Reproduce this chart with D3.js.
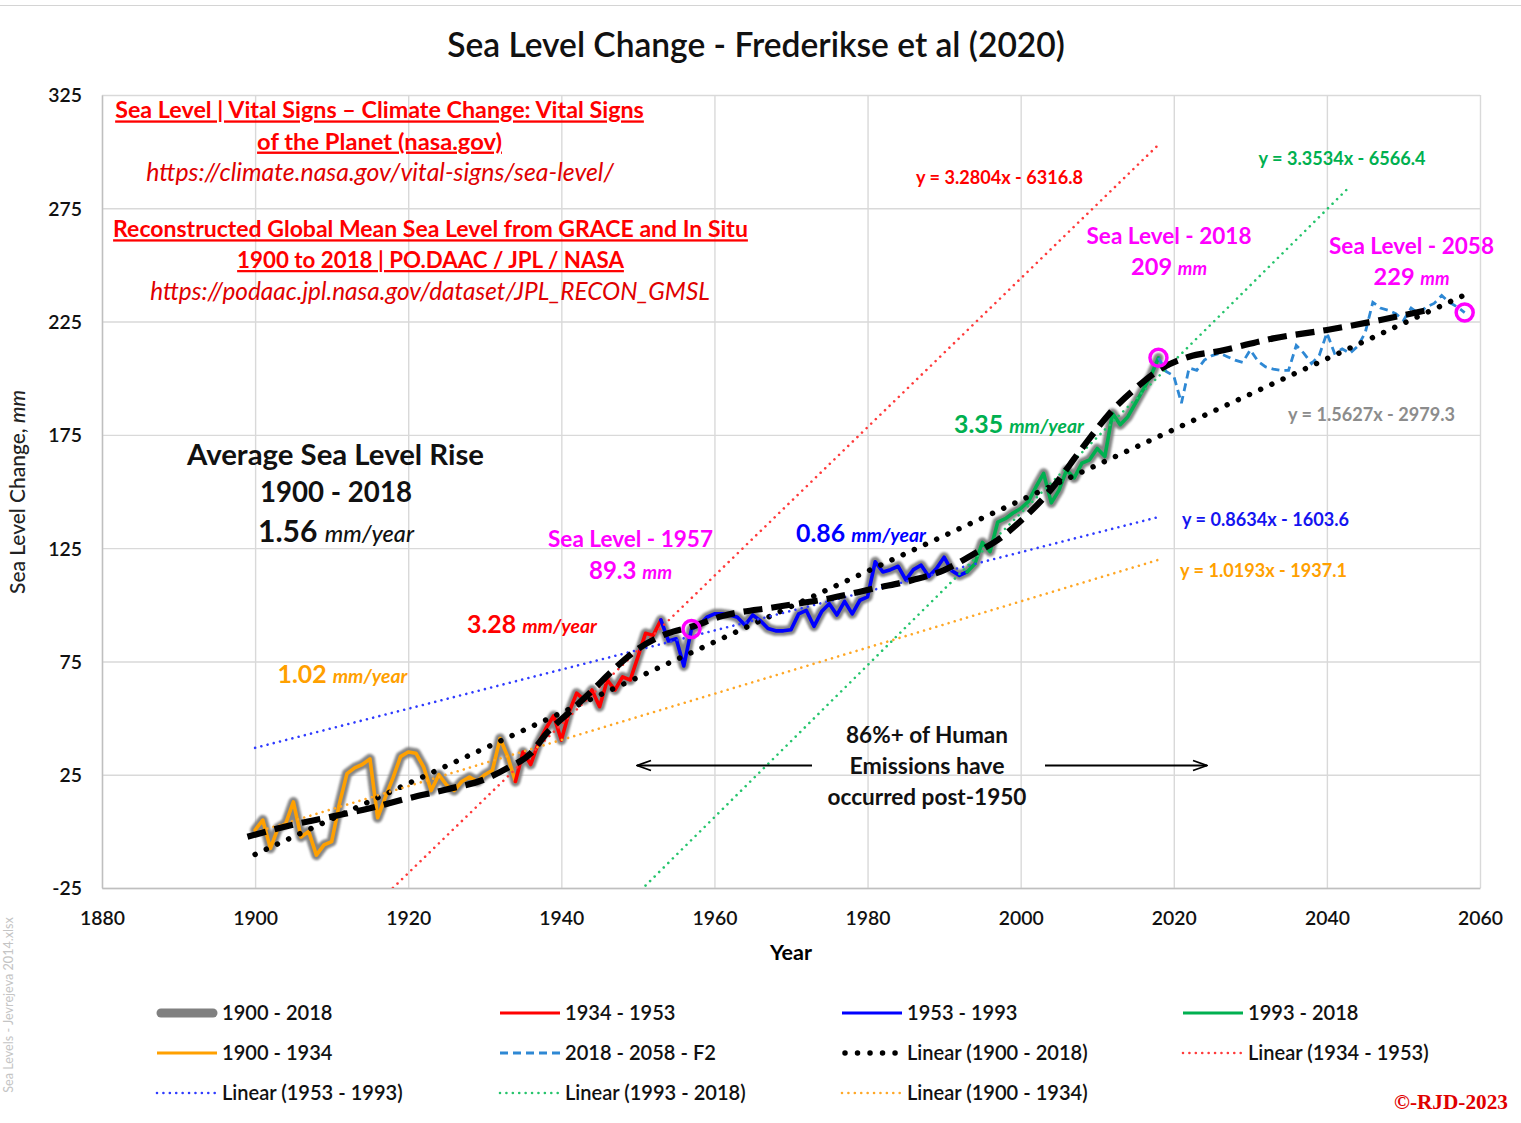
<!DOCTYPE html>
<html>
<head>
<meta charset="utf-8">
<title>Sea Level Change - Frederikse et al (2020)</title>
<script src="https://cdn.jsdelivr.net/npm/d3@7/dist/d3.min.js"></script>
<style>
  html, body { margin: 0; padding: 0; background: #ffffff; }
  svg { display: block; font-family: Lato, "Open Sans", "DejaVu Sans", sans-serif; }
</style>
</head>
<body>
<svg id="chart" width="1521" height="1123"></svg>
<script>
// ---------------------------------------------------------------------------
// Data
// ---------------------------------------------------------------------------
// Global mean sea level change (mm), one value per year from 1900 to 2018
const firstYear = 1900;
const seaLevel = [
  0.6, 5, -7.5, 1.5, 3.5, 13, -2.5, 0, -10.5, -6,              // 1900-1909
  -4.5, 12, 25.5, 28, 29.5, 32, 6, 15, 23.5, 33,               // 1910-1919
  35, 34.5, 28.5, 18, 25, 20.5, 18, 22, 24, 22,                // 1920-1929
  25, 27, 41, 33, 22, 35, 29.5, 39, 45.5, 51,                  // 1930-1939
  40.3, 52.5, 61, 58, 62.4, 55, 66.8, 62.4, 68.2, 66.8,        // 1940-1949
  77, 87.4, 86.5, 93.3, 84, 85, 73, 89.3, 91, 94.5,            // 1950-1959
  96, 96, 95.5, 94.5, 91, 95.5, 93, 89.5, 88.5, 88.5,          // 1960-1969
  89, 96, 97.5, 90.5, 97, 100.5, 95.5, 101.5, 96, 102,         // 1970-1979
  103.5, 119, 114.5, 115.5, 117, 111, 115.5, 117.5, 112.5, 116,// 1980-1989
  121, 115, 113, 114.5, 118, 127.5, 123.5, 136.5, 138, 140.5,  // 1990-1999
  142.5, 145.5, 152, 158, 145, 150.5, 159.5, 156, 162.5, 164,  // 2000-2009
  169, 165.5, 184.5, 179.5, 183, 189, 195, 201, 209            // 2010-2018
];

// Coloured sub-periods of the record
const segmentNames = ["1900 - 1934", "1934 - 1953", "1953 - 1993", "1993 - 2018"];
const segmentStart = [1900, 1934, 1953, 1993];
const segmentEnd   = [1934, 1953, 1993, 2018];

// Projection "F2", 2018 to 2058 (mm)
const forecastStart = 2018;
const forecastF2 = [
  209, 203, 201, 189, 204.5, 203.5, 208, 210, 211, 209.5,      // 2018-2027
  208, 207, 212.5, 207.5, 205, 204, 203.5, 203.5, 214.5, 211,  // 2028-2037
  206.5, 210, 220, 211, 213, 211, 214, 220, 233.5, 231,        // 2038-2047
  230, 228.5, 225.5, 231, 228.5, 231.5, 233, 236.5, 233.5, 231.5, // 2048-2057
  229                                                          // 2058
];

// Smoothed trend curve (thick dashed black)
const smoothYears  = [1899, 1905, 1910, 1915, 1920, 1925, 1930, 1933, 1936, 1938, 1941, 1944, 1947, 1950,
                      1954, 1957, 1961, 1968, 1975, 1981, 1986, 1990, 1994, 1997, 2000, 2004, 2008, 2012,
                      2015, 2018, 2022, 2026, 2033, 2040, 2047, 2053];
const smoothValues = [-2.4, 3, 6.5, 10.2, 14.6, 18.5, 23, 28, 34.4, 43, 52.5, 62, 72, 80.5,
                      87.5, 90.3, 95, 99, 102.8, 107.3, 111, 115.3, 122.7, 128.6, 137, 151, 169, 185.9,
                      195.5, 203.5, 209.5, 212, 217.6, 221.3, 225.7, 230];

// Linear trend lines (y = slope * year + intercept) and the years they span
const trendNames     = ["Linear (1900 - 2018)", "Linear (1934 - 1953)", "Linear (1953 - 1993)",
                        "Linear (1993 - 2018)", "Linear (1900 - 1934)"];
const trendSlope     = [1.5627, 3.2804, 0.8634, 3.3534, 1.0193];
const trendIntercept = [-2979.3, -6316.8, -1603.6, -6566.4, -1937.1];
const trendFrom      = [1900, 1918, 1900, 1951, 1900];
const trendTo        = [2059, 2018, 2018, 2043, 2018];

// Highlighted sea levels
const markerYears  = [1957, 2018, 2058];
const markerValues = [89.3, 209, 229];

// Axis ticks
const xTickValues = [1880, 1900, 1920, 1940, 1960, 1980, 2000, 2020, 2040, 2060];
const yTickValues = [-25, 25, 75, 125, 175, 225, 275, 325];

// Legend entries
const legendNames = ["1900 - 2018", "1934 - 1953", "1953 - 1993", "1993 - 2018",
                     "1900 - 1934", "2018 - 2058 - F2", "Linear (1900 - 2018)", "Linear (1934 - 1953)",
                     "Linear (1953 - 1993)", "Linear (1993 - 2018)", "Linear (1900 - 1934)"];

// ---------------------------------------------------------------------------
// Styles
// ---------------------------------------------------------------------------
const C = {
  orange: "#FFA000", red: "#FF0000", blue: "#0000FF", green: "#00B050",
  f2: "#2E88D4", magenta: "#FF00FF", gray: "#808080",
  redDot: "#FF3A3A", blueDot: "#2F3BFF", greenDot: "#25C46C", orangeDot: "#FFA726"
};
const segmentColor = [C.orange, C.red, C.blue, C.green];
const trendColor = ["#000000", C.redDot, C.blueDot, C.greenDot, C.orangeDot];

// ---------------------------------------------------------------------------
// Scales & frame
// ---------------------------------------------------------------------------
const svg = d3.select("#chart");
const x = d3.scaleLinear().domain([1880, 2060]).range([102, 1480]);
const y = d3.scaleLinear().domain([-25, 325]).range([888, 95]);
const [x0, x1] = x.range();
const [yB, yT] = y.range();

const defs = svg.append("defs");
defs.append("clipPath").attr("id", "plotClip").append("rect")
  .attr("x", x0).attr("y", yT).attr("width", x1 - x0).attr("height", yB - yT);
defs.append("filter").attr("id", "halo")
  .attr("x", "-5%").attr("y", "-5%").attr("width", "110%").attr("height", "110%")
  .append("feGaussianBlur").attr("stdDeviation", 1.1);
defs.append("marker").attr("id", "arrowHead")
  .attr("viewBox", "0 -7 16 14").attr("refX", 15).attr("refY", 0)
  .attr("markerWidth", 16).attr("markerHeight", 14)
  .attr("markerUnits", "userSpaceOnUse").attr("orient", "auto")
  .append("path").attr("d", "M1,-5 L15,0 L1,5")
  .attr("fill", "none").attr("stroke", "#000").attr("stroke-width", 1.8);

// thin frame line across the top of the chart area
svg.append("line").attr("x1", 0).attr("x2", 1521).attr("y1", 5.5).attr("y2", 5.5)
  .attr("stroke", "#d4d4d4").attr("stroke-width", 1.2);

// gridlines
svg.append("g").attr("transform", `translate(${x0},0)`)
  .call(d3.axisLeft(y).tickValues(yTickValues).tickSize(-(x1 - x0)).tickFormat(""))
  .call(g => g.select(".domain").remove())
  .call(g => g.selectAll("line").attr("stroke", "#d9d9d9").attr("stroke-width", 1.4));
svg.append("g").attr("transform", `translate(0,${yB})`)
  .call(d3.axisBottom(x).tickValues(xTickValues).tickSize(-(yB - yT)).tickFormat(""))
  .call(g => g.select(".domain").remove())
  .call(g => g.selectAll("line").attr("stroke", "#d9d9d9").attr("stroke-width", 1.4));

// text measuring helper: width per 1px of font size
function unitWidth(parts, weight, family) {
  const t = svg.append("text").attr("font-size", 100).attr("font-weight", weight);
  if (family) t.attr("font-family", family);
  parts.forEach(p => {
    const s = t.append("tspan").text(p.text);
    if (p.italic) s.attr("font-style", "italic");
    if (p.size) s.style("font-size", p.size + "em");
    if (p.weight) s.attr("font-weight", p.weight);
  });
  const w = t.node().getComputedTextLength() / 100;
  t.remove();
  return w;
}

// rich text label centred at (cx, cy), sized so that it spans `width` pixels
function label(parts, o) {
  const weight = o.weight ?? 700;
  const fs = o.size ?? (o.width / unitWidth(parts, weight, o.family));
  const t = svg.append("text")
    .attr("text-anchor", o.anchor || "middle")
    .attr("font-size", fs)
    .attr("font-weight", weight)
    .attr("fill", o.fill || "#000");
  if (o.family) t.attr("font-family", o.family);
  if (o.underline) t.style("text-decoration", "underline");
  parts.forEach(p => {
    const s = t.append("tspan").text(p.text);
    if (p.italic) s.attr("font-style", "italic");
    if (p.size) s.style("font-size", p.size + "em");
    if (p.weight) s.attr("font-weight", p.weight);
  });
  t.attr("x", o.x).attr("y", o.y + 0.36 * fs);
  if (o.rotate) t.attr("transform", `rotate(${o.rotate},${o.x},${o.y})`);
  return t;
}

// axes with tick labels (plain hyphen for negatives)
const plain = d => String(d);
const tickFs = 45 / unitWidth([{ text: "1880" }], 600);
const xAxis = svg.append("g").attr("transform", `translate(0,${yB})`)
  .call(d3.axisBottom(x).tickValues(xTickValues).tickSize(0).tickFormat(plain));
xAxis.attr("font-family", null).attr("font-size", tickFs).attr("font-weight", 600);
xAxis.select(".domain").attr("stroke", "#bfbfbf").attr("stroke-width", 1.4);
xAxis.selectAll("text").attr("fill", "#111").attr("dy", null).attr("y", 30 + 0.36 * tickFs);

const yAxis = svg.append("g").attr("transform", `translate(${x0},0)`)
  .call(d3.axisLeft(y).tickValues(yTickValues).tickSize(0).tickFormat(plain));
yAxis.attr("font-family", null).attr("font-size", tickFs).attr("font-weight", 600);
yAxis.select(".domain").attr("stroke", "#bfbfbf").attr("stroke-width", 1.4);
yAxis.selectAll("text").attr("fill", "#111").attr("dy", null).attr("x", -20)
  .attr("y", 0.36 * tickFs);

// axis titles
label([{ text: "Year" }], { x: 791, y: 952, width: 42, weight: 700 });
label([{ text: "Sea Level Change, " }, { text: "mm", italic: true }],
  { x: 17, y: 492, width: 204, weight: 500, fill: "#222", rotate: -90 });

// ---------------------------------------------------------------------------
// Series
// ---------------------------------------------------------------------------
const obs = seaLevel.map((v, i) => ({ year: firstYear + i, value: v }));
const f2 = forecastF2.map((v, i) => ({ year: forecastStart + i, value: v }));
const smooth = smoothYears.map((yr, i) => ({ year: yr, value: smoothValues[i] }));
const line = d3.line().x(d => x(d.year)).y(d => y(d.value));
const plot = svg.append("g").attr("clip-path", "url(#plotClip)");

// full record as a soft grey band under the coloured periods
plot.append("path").datum(obs).attr("d", line)
  .attr("fill", "none").attr("stroke", C.gray).attr("stroke-width", 10)
  .attr("stroke-linejoin", "round").attr("stroke-linecap", "round")
  .attr("opacity", 0.95).attr("filter", "url(#halo)");

segmentNames.forEach((name, k) => {
  const seg = obs.filter(d => d.year >= segmentStart[k] && d.year <= segmentEnd[k]);
  plot.append("path").datum(seg).attr("d", line)
    .attr("fill", "none").attr("stroke", segmentColor[k]).attr("stroke-width", 3.6)
    .attr("stroke-linejoin", "round").attr("stroke-linecap", "round");
});

// projection
plot.append("path").datum(f2).attr("d", line)
  .attr("fill", "none").attr("stroke", C.f2).attr("stroke-width", 2.8)
  .attr("stroke-dasharray", "8,5");

// linear trends
trendNames.forEach((name, k) => {
  const pts = [trendFrom[k], trendTo[k]].map(yr => ({ year: yr, value: trendSlope[k] * yr + trendIntercept[k] }));
  const p = plot.append("path").datum(pts).attr("d", line).attr("fill", "none")
    .attr("stroke", trendColor[k]).attr("stroke-linecap", "round");
  if (k === 0) p.attr("stroke-width", 5.5).attr("stroke-dasharray", "0.01,12.3");
  else p.attr("stroke-width", 2.6).attr("stroke-dasharray", "0.01,6.4");
});

// smoothed trend
plot.append("path").datum(smooth).attr("d", line.curve(d3.curveMonotoneX))
  .attr("fill", "none").attr("stroke", "#000").attr("stroke-width", 6.2)
  .attr("stroke-dasharray", "19,9");
line.curve(d3.curveLinear);

// highlighted levels
svg.selectAll("circle.mark").data(markerYears).join("circle")
  .attr("class", "mark")
  .attr("cx", d => x(d)).attr("cy", (d, i) => y(markerValues[i])).attr("r", 8.5)
  .attr("fill", "none").attr("stroke", C.magenta).attr("stroke-width", 3.5);

// ---------------------------------------------------------------------------
// Annotations
// ---------------------------------------------------------------------------
label([{ text: "Sea Level Change - Frederikse et al (2020)" }],
  { x: 756, y: 45, width: 618, weight: 600, fill: "#111" });

label([{ text: "Sea Level | Vital Signs \u2013 Climate Change: Vital Signs" }],
  { x: 379.5, y: 110, width: 529, fill: C.red, underline: true });
label([{ text: "of the Planet (nasa.gov)" }],
  { x: 379.5, y: 141, width: 245, fill: C.red, underline: true });
label([{ text: "https://climate.nasa.gov/vital-signs/sea-level/", italic: true }],
  { x: 380, y: 172, width: 468, weight: 400, fill: "#E00000" });
label([{ text: "Reconstructed Global Mean Sea Level from GRACE and In Situ" }],
  { x: 430.5, y: 229, width: 635, fill: C.red, underline: true });
label([{ text: "1900 to 2018 | PO.DAAC / JPL / NASA" }],
  { x: 430.5, y: 260, width: 387, fill: C.red, underline: true });
label([{ text: "https://podaac.jpl.nasa.gov/dataset/JPL_RECON_GMSL", italic: true }],
  { x: 430, y: 291, width: 560, weight: 400, fill: "#E00000" });

const rate = d3.format(".2f");
label([{ text: "Average Sea Level Rise" }], { x: 335.5, y: 454, width: 297, fill: "#111" });
label([{ text: "1900 - 2018" }], { x: 336, y: 492, width: 152, fill: "#111" });
label([{ text: rate(trendSlope[0]) + " " }, { text: "mm/year", italic: true, size: 0.78, weight: 500 }],
  { x: 336, y: 531, width: 156, fill: "#111" });

// slope labels for each period
const rateLabels = [
  { k: 2, x: 861, y: 533, fill: C.blue },
  { k: 1, x: 532, y: 624, fill: C.red },
  { k: 4, x: 342.5, y: 674, fill: C.orange },
  { k: 3, x: 1019, y: 424, fill: C.green }
];
rateLabels.forEach(r => {
  label([{ text: rate(trendSlope[r.k]) + " " }, { text: "mm/year", italic: true, size: 0.78 }],
    { x: r.x, y: r.y, width: 130, fill: r.fill });
});

// highlighted level captions
const markerCaption = [
  { x: 630.5, y: 539 }, { x: 1169, y: 236 }, { x: 1411.5, y: 246 }
];
const valueWidth = [83, 76, 76];
markerYears.forEach((yr, i) => {
  label([{ text: "Sea Level - " + yr }],
    { x: markerCaption[i].x, y: markerCaption[i].y, width: 165, fill: C.magenta });
  label([{ text: markerValues[i] + " " }, { text: "mm", italic: true, size: 0.78 }],
    { x: markerCaption[i].x, y: markerCaption[i].y + 31, width: valueWidth[i], fill: C.magenta });
});

// trend equations
const eqPos = [
  { x: 1371.5, y: 414, fill: "#8C8C8C" },
  { x: 999.5, y: 177, fill: C.red },
  { x: 1265.5, y: 519, fill: "#1414F0" },
  { x: 1342, y: 158, fill: C.green },
  { x: 1263.5, y: 570, fill: "#FFA000" }
];
trendNames.forEach((name, k) => {
  const txt = `y = ${trendSlope[k]}x - ${-trendIntercept[k]}`;
  label([{ text: txt }], { x: eqPos[k].x, y: eqPos[k].y, width: 167, fill: eqPos[k].fill });
});

// emissions note with arrows
label([{ text: "86%+ of Human" }], { x: 927, y: 735, width: 162, fill: "#111" });
label([{ text: "Emissions have" }], { x: 927, y: 766, width: 155, fill: "#111" });
label([{ text: "occurred post-1950" }], { x: 927, y: 797, width: 199, fill: "#111" });
[[812, 637], [1045, 1207]].forEach(([a, b]) => {
  svg.append("line").attr("x1", a).attr("x2", b).attr("y1", 765.5).attr("y2", 765.5)
    .attr("stroke", "#000").attr("stroke-width", 2).attr("marker-end", "url(#arrowHead)");
});

// ---------------------------------------------------------------------------
// Legend
// ---------------------------------------------------------------------------
const legFs = (185 / unitWidth([{ text: "Linear (1900 - 2018)" }], 600) +
               108 / unitWidth([{ text: "1900 - 2018" }], 600)) / 2;
const legCols = [157, 500, 842, 1183];
const legRows = [1013, 1053, 1093];
const legStyle = [
  { stroke: C.gray, w: 9, cap: "round" },
  { stroke: C.red, w: 3 },
  { stroke: C.blue, w: 3 },
  { stroke: C.green, w: 3 },
  { stroke: C.orange, w: 3 },
  { stroke: C.f2, w: 3, dash: "8,5" },
  { stroke: "#000", w: 5.5, dash: "0.01,12.5", cap: "round", dots: true },
  { stroke: C.redDot, w: 2.6, dash: "0.01,6.4", cap: "round" },
  { stroke: C.blueDot, w: 2.6, dash: "0.01,6.4", cap: "round" },
  { stroke: C.greenDot, w: 2.6, dash: "0.01,6.4", cap: "round" },
  { stroke: C.orangeDot, w: 2.6, dash: "0.01,6.4", cap: "round" }
];
legendNames.forEach((name, i) => {
  const cx = legCols[i % 4], cy = legRows[Math.floor(i / 4)];
  const s = legStyle[i];
  const a = s.dots ? cx + 3 : cx + (s.cap === "round" && !s.dash ? 4 : 0);
  const b = s.dots ? cx + 56 : cx + 60 - (s.cap === "round" && !s.dash ? 4 : 0);
  const ln = svg.append("line").attr("x1", a).attr("x2", b).attr("y1", cy).attr("y2", cy)
    .attr("stroke", s.stroke).attr("stroke-width", s.w).attr("stroke-linecap", s.cap || "butt");
  if (s.dash) ln.attr("stroke-dasharray", s.dash);
  label([{ text: name }], { x: cx + 65, y: cy, size: legFs, weight: 600, fill: "#111", anchor: "start" });
});

// copyright
label([{ text: "\u00A9-RJD-2023" }],
  { x: 1451, y: 1101, width: 114, fill: "#E00000", family: "Liberation Serif, serif" });

// workbook name printed faintly along the left edge
label([{ text: "Sea Levels - Jevrejeva 2014.xlsx" }],
  { x: 8, y: 1005, width: 176, weight: 400, fill: "#c4c4c4", rotate: -90 });
</script>
</body>
</html>
